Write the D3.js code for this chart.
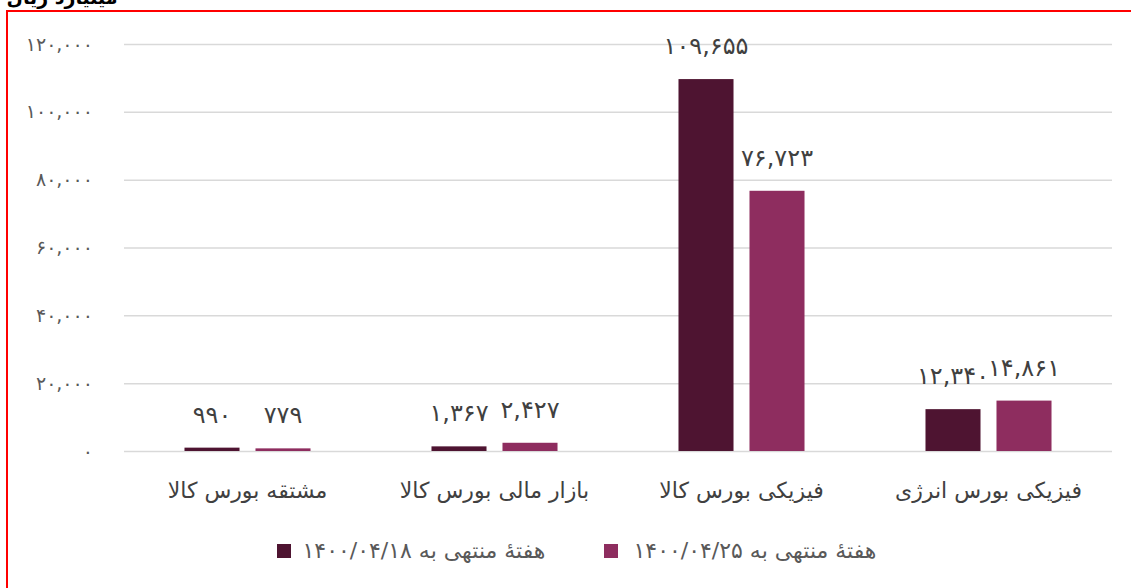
<!DOCTYPE html>
<html><head><meta charset="utf-8">
<script src="https://cdn.jsdelivr.net/npm/d3@7/dist/d3.min.js"></script>
<style>
html,body{margin:0;padding:0;background:#fff;overflow:hidden;}
svg{display:block;font-family:"DejaVu Sans","Noto Sans",sans-serif;}
</style></head>
<body>
<script>
const categories = ["مشتقه بورس کالا", "بازار مالی بورس کالا", "فیزیکی بورس کالا", "فیزیکی بورس انرژی"];
const seriesNames = ["هفتهٔ منتهی به ۱۴۰۰/۰۴/۱۸", "هفتهٔ منتهی به ۱۴۰۰/۰۴/۲۵"];
const week0418 = [990, 1367, 109655, 12340];
const week0425 = [779, 2427, 76723, 14861];
const yTicks = [0, 20000, 40000, 60000, 80000, 100000, 120000];
const colors = ["#4E1431", "#8E2D5F"];
const unitTitle = "میلیارد ریال";

const W = 1131, H = 588;
const fa = s => String(s).replace(/[0-9]/g, d => String.fromCharCode(0x06F0 + +d));
const fmt = d3.format(",");

const svg = d3.select("body").append("svg").attr("width", W).attr("height", H);

// frame (top and left red lines)
svg.append("line").attr("x1", 6.5).attr("x2", W).attr("y1", 11).attr("y2", 11).attr("stroke", "#ff0000").attr("stroke-width", 2);
svg.append("line").attr("x1", 7).attr("x2", 7).attr("y1", 10).attr("y2", H).attr("stroke", "#ff0000").attr("stroke-width", 2);

// cut-off title (partly above the visible area, as in the reference)
svg.append("text").attr("x", 62).attr("y", 4).attr("text-anchor", "middle")
  .attr("direction", "rtl").attr("font-weight", "bold").attr("font-size", 19).attr("fill", "#000")
  .text(unitTitle);

const plot = {l: 124, r: 1112, t: 44, b: 451};
const y = d3.scaleLinear().domain([0, 120000]).range([plot.b, plot.t]);
const x0 = d3.scaleBand().domain(categories).range([plot.l, plot.r]).paddingInner(0).paddingOuter(0);
const inner = d3.scaleBand().domain([0, 1]).range([0, x0.bandwidth()]).paddingInner(0.225).paddingOuter(0.852);

// gridlines + y labels
const yAxis = d3.axisLeft(y).tickValues(yTicks).tickSize(-(plot.r - plot.l)).tickFormat(d => fa(fmt(d)));
const ga = svg.append("g").attr("transform", `translate(${plot.l},0)`).call(yAxis);
ga.select(".domain").remove();
ga.selectAll(".tick line").attr("stroke", "#d9d9d9").attr("stroke-width", 1.5);
ga.selectAll(".tick text").attr("x", -31).attr("fill", "#595959").attr("font-size", 19)
  .attr("letter-spacing", 1).attr("font-family", "DejaVu Sans").attr("direction", "ltr");

const series = [week0418, week0425];
series.forEach((vals, si) => {
  const g = svg.append("g");
  g.selectAll("rect").data(vals).join("rect")
    .attr("x", (d, i) => x0(categories[i]) + inner(si))
    .attr("width", inner.bandwidth())
    .attr("y", d => y(d))
    .attr("height", d => y(0) - y(d))
    .attr("fill", colors[si]);
  g.selectAll("text").data(vals).join("text")
    .attr("x", (d, i) => x0(categories[i]) + inner(si) + inner.bandwidth() / 2)
    .attr("y", d => y(d) - 25)
    .attr("text-anchor", "middle").attr("direction", "ltr")
    .attr("font-size", 24).attr("letter-spacing", 2.5).attr("fill", "#404040")
    .text(d => fa(fmt(d)));
});

// category labels
svg.append("g").selectAll("text").data(categories).join("text")
  .attr("x", d => x0(d) + x0.bandwidth() / 2)
  .attr("y", 498)
  .attr("text-anchor", "middle").attr("direction", "rtl")
  .attr("font-size", 22).attr("fill", "#404040")
  .text(d => d);

// legend
const legendItems = [
  {name: seriesNames[0], color: colors[0], sx: 277, tx: 424},
  {name: seriesNames[1], color: colors[1], sx: 604, tx: 755}
];
const lg = svg.append("g");
legendItems.forEach(it => {
  lg.append("rect").attr("x", it.sx).attr("y", 544).attr("width", 14).attr("height", 14).attr("fill", it.color);
  lg.append("text").attr("x", it.tx).attr("y", 558).attr("text-anchor", "middle").attr("direction", "rtl")
    .attr("font-size", 22).attr("fill", "#595959").text(it.name);
});
</script>
</body></html>
